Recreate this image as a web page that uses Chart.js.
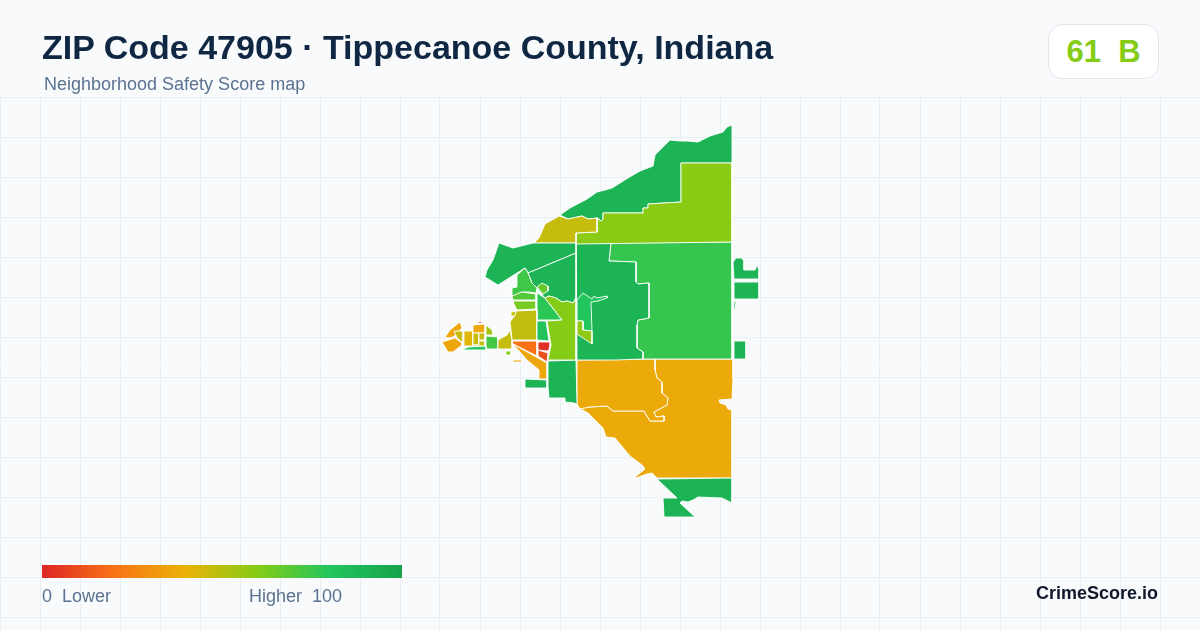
<!DOCTYPE html>
<html>
<head>
<meta charset="utf-8">
<title>ZIP Code 47905</title>
<script src="https://cdn.jsdelivr.net/npm/chart.js@4/dist/chart.umd.js"></script>
<style>
html, body { margin: 0; padding: 0; background: #f8fafc; }
body { width: 1200px; height: 630px; position: relative; overflow: hidden; font-family: "Liberation Sans", Arial, sans-serif; }
#chart { position: absolute; left: 0; top: 0; }
.txt { position: absolute; white-space: pre; }
#title { left: 42px; top: 27px; font-size: 34px; line-height: 40px; font-weight: 700; color: #0f2742; }
#sub { left: 44px; top: 74px; font-size: 18px; line-height: 20px; color: #5b7290; }
#badge { position: absolute; left: 1048px; top: 24px; width: 109px; height: 53px; background: #fff; border: 1px solid #e2e8f0; border-radius: 14px; color: #84cc16; font-size: 31px; font-weight: 700; line-height: 53px; text-align: center; white-space: pre; }
#ramp { position: absolute; left: 42px; top: 565px; width: 360px; height: 13px; }
#low { left: 42px; top: 586px; font-size: 18px; line-height: 20px; color: #5b7290; }
#high { left: 249px; top: 586px; font-size: 18px; line-height: 20px; color: #5b7290; }
#brand { right: 42px; top: 583px; font-size: 18px; line-height: 20px; font-weight: 700; color: #0f172a; }
</style>
</head>
<body>
<canvas id="chart" width="1200" height="630"></canvas>
<div class="txt" id="title">ZIP Code 47905 · Tippecanoe County, Indiana</div>
<div class="txt" id="sub">Neighborhood Safety Score map</div>
<div id="badge">61  B</div>
<div id="ramp"></div>
<div class="txt" id="low">0  Lower</div>
<div class="txt" id="high">Higher  100</div>
<div class="txt" id="brand">CrimeScore.io</div>
<script>
// score ramp, same stops as the legend bar
const rampScores = [0, 20, 40, 60, 80, 100]
const rampColors = ['#dc2626', '#f97316', '#eab308', '#84cc16', '#22c55e', '#16a34a']

const gridY = [97, 137, 177, 217, 257, 297, 337, 377, 417, 457, 497, 537, 577, 617]

// tract outlines (map units)
const northStrip = [[732,125],[727,127],[723,132],[710,136],[698,142],[687,141],[680,141],[670,140],[662,148],[655,155],[653,166],[640,171],[628,178],[612,188],[605,190],[597,192],[587,199],[570,208],[560,215],[568,219],[582,216],[588,219],[598,218],[601,221],[603,219],[603,213],[643,213],[643,208],[648,208],[648,204],[681,202],[681,163],[732,163]]
const northBlock = [[597,218],[601,221],[603,219],[603,213],[643,213],[643,208],[648,208],[648,204],[681,202],[681,163],[732,163],[732,242],[654,243],[576,244],[576,233],[597,232]]
const riverOlive = [[534,243],[539,238],[545,224],[559,216],[568,219],[582,216],[588,219],[597,218],[597,232],[576,233],[576,243]]
const nwBlock = [[499,243],[513,248],[533,243],[576,243],[576,253],[528,273],[525,268],[498,285],[485,277],[487,270],[493,260]]
const nwCentral = [[528,273],[576,253],[576,298],[573,303],[567,301],[562,302],[556,298],[549,296],[545,298],[537,288],[532,283]]
const nwSmall = [[525,268],[528,273],[532,283],[537,288],[536,293],[529,292],[522,292],[513,296],[512,295],[512,288],[517,287],[517,280],[517,275]]
const blob = [[537,287],[542,283],[548,286],[548,291],[543,294]]
const rowA = [[512,296],[522,292],[529,293],[536,294],[536,300],[513,300]]
const rowB = [[513,301],[536,301],[536,309],[517,310],[514,304]]
const triangle = [[537,293],[545,298],[562,320],[537,320]]
const midLime = [[545,298],[549,296],[556,298],[562,302],[567,301],[573,303],[576,298],[576,360],[548,360],[551,345],[547,321],[562,320]]
const midOlive = [[537,310],[537,340],[512,340],[511,330],[510,322],[515,315],[516,311]]
const midGreen = [[537,321],[546,321],[549,341],[537,340]]
const coreRed = [[538,342],[550,342],[549,350],[547,351],[538,350]]
const coreRust = [[538,350],[548,353],[547,362],[538,356]]
const coreOrange = [[512,341],[537,341],[537,356],[513,344]]
const amberStrip = [[513,344],[547,363],[547,379],[539,379],[539,370],[527,360]]
const amberSliver = [[513,360],[522,360],[522,362],[513,362]]
const swRect = [[525,379],[547,380],[547,388],[525,388]]
const swBlock = [[548,361],[576,360],[577,404],[574,403],[565,402],[565,398],[549,398],[548,387]]
const southWest = [[577,360],[655,359],[655,370],[657,378],[662,382],[662,393],[668,398],[667,405],[654,412],[656,417],[664,416],[664,421],[650,421],[644,411],[613,411],[607,406],[590,407],[580,409],[577,404]]
const southMain = [[655,359],[733,359],[733,379],[732,399],[719,400],[720,403],[726,405],[728,409],[732,410],[732,478],[657,478],[652,473],[647,474],[636,478],[635,477],[645,469],[642,465],[630,456],[615,438],[606,437],[603,428],[588,413],[579,408],[590,407],[607,406],[613,411],[644,411],[650,421],[664,421],[664,416],[656,417],[654,412],[667,405],[668,398],[662,393],[662,382],[657,378],[655,370]]
const southTip = [[657,479],[732,478],[732,503],[722,498],[698,497],[693,500],[688,502],[682,501],[680,503],[695,517],[664,517],[663,498],[677,498]]
const centerBlock = [[576,243],[611,243],[609,261],[636,262],[636,282],[638,284],[649,283],[649,318],[638,320],[637,325],[637,348],[643,352],[643,359],[616,360],[577,360]]
const centerInner = [[577,300],[583,293],[592,299],[594,296],[597,298],[607,296],[607,298],[598,301],[591,302],[592,331],[583,330],[583,321],[577,321]]
const centerLime = [[577,321],[583,321],[583,330],[592,331],[592,344],[577,334]]
const eastBlock = [[611,243],[732,242],[732,359],[643,359],[643,352],[637,348],[637,325],[638,320],[649,318],[649,283],[638,284],[636,282],[636,262],[609,261]]
const eastBlobA = [[733,262],[736,258],[742,258],[744,262],[744,270],[755,270],[757,265],[759,270],[759,279],[734,279]]
const eastRect = [[734,282],[759,282],[759,299],[734,299]]
const eastSliver = [[734,302],[736,301],[735,310],[734,310]]
const eastLow = [[734,341],[746,341],[746,359],[734,359]]
const westBarA = [[460,322],[462,328],[453,337],[448,338],[445,337],[450,330]]
const westBarB = [[442,342],[455,338],[462,343],[462,345],[453,352],[448,352]]
const westOlive = [[454,331],[463,331],[463,343],[457,338]]
const westYellow = [[464,331],[473,331],[473,346],[464,346]]
const westTop = [[473,325],[485,324],[485,333],[473,333]]
const westRed = [[477,323],[480,321],[483,323]]
const westC = [[473,333],[479,333],[479,345],[473,345]]
const westD = [[479,333],[485,333],[485,340],[479,340]]
const westE = [[479,341],[485,341],[485,346],[473,346],[473,345],[479,345]]
const westLime = [[486,325],[492,330],[493,335],[486,335]]
const westGreen = [[486,336],[498,337],[498,349],[486,349]]
const westStrip = [[462,350],[468,347],[486,346],[486,350]]
const westEnd = [[498,340],[507,335],[510,330],[512,340],[512,349],[498,349]]
const westDot = [[506,351],[511,351],[511,355],[506,355]]
const westNick = [[511,312],[516,311],[515,316],[511,316]]

const regions = [southMain, southWest, southTip, swBlock, swRect, eastBlock, centerBlock, centerInner, centerLime, northStrip, northBlock, riverOlive, nwBlock, nwCentral, nwSmall, blob, rowA, rowB, triangle, midLime, midOlive, midGreen, coreOrange, amberStrip, amberSliver, coreRed, coreRust, eastBlobA, eastRect, eastSliver, eastLow, westBarA, westBarB, westOlive, westYellow, westTop, westRed, westC, westD, westE, westLime, westGreen, westStrip, westEnd, westDot, westNick]
const scores =  [37, 37, 90, 90, 90, 76, 90, 80, 58, 90, 59, 47, 90, 90, 74, 66, 70, 63, 78, 60, 48, 82, 20, 36, 36, 2, 11, 90, 90, 90, 90, 36, 36, 47, 42, 36, 3, 47, 47, 47, 54, 73, 79, 47, 60, 47]

function hexRgb(h) {
    return [1, 3, 5].map(i => parseInt(h.slice(i, i + 2), 16))
}
function scoreColor(s) {
    let i = rampScores.findIndex(v => v >= s)
    if (i <= 0) return rampColors[0]
    let t = (s - rampScores[i - 1]) / (rampScores[i] - rampScores[i - 1])
    let a = hexRgb(rampColors[i - 1]), b = hexRgb(rampColors[i])
    return 'rgb(' + a.map((v, k) => Math.round(v + (b[k] - v) * t)).join(',') + ')'
}

document.getElementById('ramp').style.background =
    'linear-gradient(90deg,' + rampColors.map((c, i) => c + ' ' + rampScores[i] + '%').join(',') + ')'

// later regions are painted on top
let datasets = regions.map((ring, i) => ({
    data: ring.concat([ring[0]]).map(p => ({ x: p[0], y: p[1] })),
    showLine: true,
    fill: 'shape',
    backgroundColor: scoreColor(scores[i]),
    borderColor: '#ffffff',
    borderWidth: 0.9,
    borderJoinStyle: 'round',
    tension: 0,
    pointRadius: 0,
    order: regions.length - i
}))

new Chart(document.getElementById('chart').getContext('2d'), {
    type: 'scatter',
    data: { datasets: datasets },
    options: {
        responsive: false,
        animation: false,
        devicePixelRatio: 1,
        layout: { padding: { top: 97 } },
        plugins: { legend: { display: false }, tooltip: { enabled: false } },
        scales: {
            x: {
                type: 'linear', min: 0, max: 1200,
                ticks: { display: false, stepSize: 40 },
                grid: { color: '#e8eff4', drawTicks: false },
                border: { display: false }
            },
            y: {
                type: 'linear', min: 97, max: 630, reverse: true,
                afterBuildTicks: axis => { axis.ticks = gridY.map(v => ({ value: v })) },
                ticks: { display: false },
                grid: { color: '#e8eff4', drawTicks: false },
                border: { display: false }
            }
        }
    }
})
</script>
</body>
</html>
